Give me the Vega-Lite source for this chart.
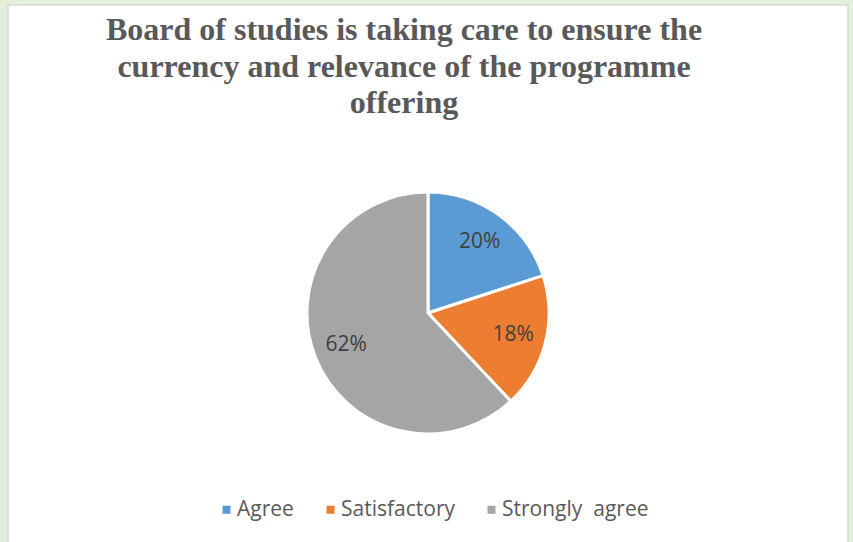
{
  "$schema": "https://vega.github.io/schema/vega-lite/v6.json",
  "autosize": {"type": "none"},
  "width": 840,
  "height": 616,
  "padding": {"left": 8, "top": 5, "right": 5, "bottom": 0},
  "background": "#e2efda",
  "view": {"fill": "white", "stroke": "#d9d9d9", "strokeWidth": 1.5},
  "title": {
    "text": ["Board of studies is taking care to ensure the", "currency and relevance of the programme", "offering"],
    "font": "Liberation Serif",
    "fontSize": 32,
    "fontWeight": "bold",
    "color": "#595959",
    "lineHeight": 36.5,
    "anchor": "middle",
    "frame": "group",
    "orient": "top",
    "dx": -24,
    "offset": -115
  },
  "data": {
    "values": [
      {"category": "Agree", "value": 0.20},
      {"category": "Satisfactory", "value": 0.18},
      {"category": "Strongly  agree", "value": 0.62}
    ]
  },
  "encoding": {
    "theta": {"field": "value", "type": "quantitative", "stack": true},
    "order": {"field": "category", "type": "nominal", "sort": "ascending"},
    "color": {
      "field": "category",
      "type": "nominal",
      "scale": {"domain": ["Agree", "Satisfactory", "Strongly  agree"], "range": ["#5b9bd5", "#ed7d31", "#a5a5a5"]},
      "legend": {
        "orient": "none",
        "direction": "horizontal",
        "legendX": 208,
        "legendY": 494,
        "padding": 0,
        "title": null,
        "symbolType": "square",
        "symbolSize": 64,
        "symbolStrokeWidth": 0,
        "labelOffset": 0,
        "columnPadding": 26,
        "labelFont": "Open Sans",
        "labelFontSize": 21,
        "labelColor": "#595959",
        "labelExpr": "replace(datum.label, '  ', '\u00a0 ')"
      }
    }
  },
  "layer": [
    {"mark": {"type": "arc", "outerRadius": 121, "stroke": "white", "strokeWidth": 3}},
    {
      "mark": {"type": "text", "radius": 88, "font": "Open Sans", "fontSize": 21},
      "encoding": {
        "text": {"field": "value", "type": "quantitative", "format": ".0%"},
        "color": {"value": "#404040"}
      }
    }
  ]
}
